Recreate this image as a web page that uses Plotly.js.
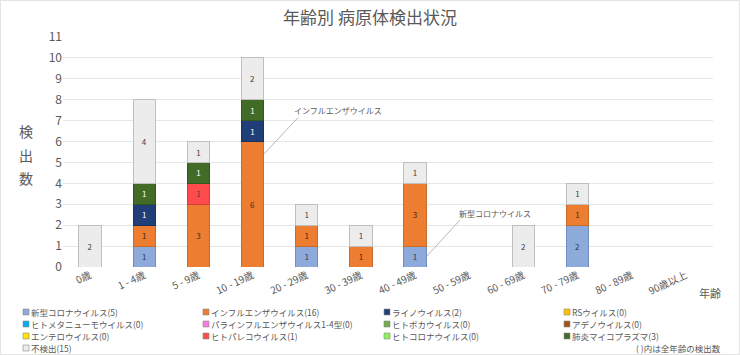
<!DOCTYPE html>
<html><head><meta charset="utf-8">
<script src="https://cdn.plot.ly/plotly-3.0.1.min.js"></script>
<style>
html,body{margin:0;padding:0;background:#fff}
#chart{width:740px;height:355px}
#frame{position:absolute;left:0;top:0;width:740px;height:355px;box-sizing:border-box;border:1px solid #e4e4e4;pointer-events:none}
</style>
</head><body>
<div id="chart"></div><div id="frame"></div>
<script>
// ---- data ----
const categories = ['0歳','1 - 4歳','5 - 9歳','10 - 19歳','20 - 29歳','30 - 39歳','40 - 49歳','50 - 59歳','60 - 69歳','70 - 79歳','80 - 89歳','90歳以上'];
const seriesNames = ['新型コロナウイルス','インフルエンザウイルス','ライノウイルス','RSウイルス','ヒトメタニューモウイルス','パラインフルエンザウイルス1-4型','ヒトボカウイルス','アデノウイルス','エンテロウイルス','ヒトパレコウイルス','ヒトコロナウイルス','肺炎マイコプラズマ','不検出'];
const covid      = [0,1,0,0,1,0,1,0,0,2,0,0];
const influenza  = [0,1,3,6,1,1,3,0,0,1,0,0];
const rhino      = [0,1,0,1,0,0,0,0,0,0,0,0];
const rsv        = [0,0,0,0,0,0,0,0,0,0,0,0];
const hmpv       = [0,0,0,0,0,0,0,0,0,0,0,0];
const parainflu  = [0,0,0,0,0,0,0,0,0,0,0,0];
const bocavirus  = [0,0,0,0,0,0,0,0,0,0,0,0];
const adenovirus = [0,0,0,0,0,0,0,0,0,0,0,0];
const enterovirus= [0,0,0,0,0,0,0,0,0,0,0,0];
const parechovirus=[0,0,1,0,0,0,0,0,0,0,0,0];
const hcov       = [0,0,0,0,0,0,0,0,0,0,0,0];
const mycoplasma = [0,1,1,1,0,0,0,0,0,0,0,0];
const notDetected= [2,4,1,2,1,1,1,0,2,1,0,0];
const seriesValues = [covid,influenza,rhino,rsv,hmpv,parainflu,bocavirus,adenovirus,enterovirus,parechovirus,hcov,mycoplasma,notDetected];
const calloutFlu = {label:'インフルエンザウイルス', category:'10 - 19歳'};
const calloutCovid = {label:'新型コロナウイルス', category:'40 - 49歳'};
const footnote = '( )内は全年齢の検出数';
const xAxisLabel = '年齢';
const yAxisLabel = ['検','出','数'];
const titleText = '年齢別 病原体検出状況';

// ---- styles ----
const seriesColors = ['#8eaadb','#ed7d31','#203f78','#ffc000','#00b0f0','#f27fe0','#70ad47','#a5501a','#ffe600','#ff4b4b','#92f060','#426b28','#ececec'];
const seriesLines  = ['#6f8cc4','#c86a2a','#1a3060','#d9a300','#0090c8','#c966b8','#5a8c3a','#7f3e14','#d0bc00','#d83c3c','#70c048','#34561f','#bfbfbf'];
const labelColors  = ['#2e3a55','#3a2a1a','#ffffff','#404040','#404040','#404040','#404040','#ffffff','#404040','#404040','#404040','#ffffff','#404040'];
const FONT = '"Noto Sans CJK JP", "Noto Sans", sans-serif';
const GREY = '#595959';

const W = 740, H = 355, L = 63, R = 27, T = 37, B = 88;
const pw = W - L - R, ph = H - T - B;
const px2x = p => (p - L) / pw;
const px2y = p => (H - B - p) / ph;

const traces = seriesValues.map((vals, i) => ({
  type: 'bar',
  name: seriesNames[i],
  x: categories,
  y: vals.map(v => v === 0 ? null : v),
  text: vals.map(v => v ? String(v) : ''),
  textposition: 'inside',
  insidetextanchor: 'middle',
  textangle: 0,
  constraintext: 'none',
  textfont: {size: 8, color: labelColors[i], family: FONT},
  width: 0.41,
  marker: {color: seriesColors[i], line: {color: seriesLines[i], width: 1}},
  showlegend: false,
  hoverinfo: 'x+y+name'
}));

const annotations = [];
const shapes = [];

// y-axis title (stacked characters)
const yLabelPx = [131, 155, 178];
yAxisLabel.forEach((ch, k) => annotations.push({
  xref: 'paper', yref: 'paper', x: px2x(26), y: px2y(yLabelPx[k]),
  text: ch, showarrow: false, xanchor: 'center', yanchor: 'middle', borderpad: 0,
  font: {size: 14, color: GREY, family: FONT}
}));

// x-axis label
annotations.push({xref:'paper', yref:'paper', x: px2x(722), y: px2y(293), text: xAxisLabel,
  showarrow:false, xanchor:'right', yanchor:'middle', borderpad: 0, font:{size:11, color:GREY, family:FONT}});

// legend (manual, 4 columns)
const colX = [23, 203, 384, 564];
const rowY = [312, 324, 336, 348];
seriesNames.forEach((name, i) => {
  const c = i % 4, r = Math.floor(i / 4);
  const total = seriesValues[i].reduce((a, b) => a + b, 0);
  shapes.push({type:'rect', xref:'paper', yref:'paper',
    x0: px2x(colX[c]), x1: px2x(colX[c] + 6), y0: px2y(rowY[r] + 3), y1: px2y(rowY[r] - 3),
    fillcolor: seriesColors[i], line: {color: '#8c8c8c', width: 0.6}});
  annotations.push({xref:'paper', yref:'paper', x: px2x(colX[c] + 8), y: px2y(rowY[r]),
    text: name + '(' + total + ')', showarrow:false, xanchor:'left', yanchor:'middle',
    borderpad: 0, borderwidth: 0,
    font:{size:8.5, color:GREY, family:FONT}});
});
annotations.push({xref:'paper', yref:'paper', x: px2x(721), y: px2y(348), text: footnote,
  showarrow:false, xanchor:'right', yanchor:'middle', borderpad: 0, borderwidth: 0,
  font:{size:8.5, color:GREY, family:FONT}});

// callouts
const fi = categories.indexOf(calloutFlu.category);
shapes.push({type:'line', xref:'x', yref:'y', x0: fi + 0.21, y0: 5.4, x1: fi + 0.84, y1: 7.15,
  line:{color:'#a6a6a6', width:0.8}});
annotations.push({xref:'x', yref:'y', x: fi + 0.75, y: 7.5, text: calloutFlu.label, showarrow:false,
  xanchor:'left', yanchor:'middle', borderpad: 0, font:{size:8, color:GREY, family:FONT}});
const ci = categories.indexOf(calloutCovid.category);
shapes.push({type:'line', xref:'x', yref:'y', x0: ci + 0.21, y0: 0.5, x1: ci + 0.83, y1: 2.25,
  line:{color:'#a6a6a6', width:0.8}});
annotations.push({xref:'x', yref:'y', x: ci + 0.79, y: 2.58, text: calloutCovid.label, showarrow:false,
  xanchor:'left', yanchor:'middle', borderpad: 0, font:{size:8, color:GREY, family:FONT}});

const layout = {
  width: W, height: H,
  margin: {l: L, r: R, t: T, b: B, pad: 0},
  paper_bgcolor: '#ffffff', plot_bgcolor: '#ffffff',
  font: {family: FONT, color: GREY},
  title: {text: titleText, font: {size: 17, color: GREY, family: FONT}, x: 0.5, xanchor: 'center', y: 1 - 18/H, yanchor: 'middle'},
  barmode: 'stack',
  showlegend: false,
  xaxis: {type: 'category', tickangle: -25, tickfont: {size: 10, color: GREY, family: FONT},
    showgrid: false, zeroline: false, showline: false, ticks: '', automargin: false, fixedrange: true},
  yaxis: {range: [0, 11], dtick: 1, tick0: 0, tickfont: {size: 12, color: GREY, family: FONT},
    gridcolor: '#e6e6e6', gridwidth: 1, zeroline: false, showline: false, ticks: '', automargin: false, fixedrange: true},
  annotations: annotations,
  shapes: shapes
};

Plotly.newPlot('chart', traces, layout, {displayModeBar: false, staticPlot: true});
</script>
</body></html>
